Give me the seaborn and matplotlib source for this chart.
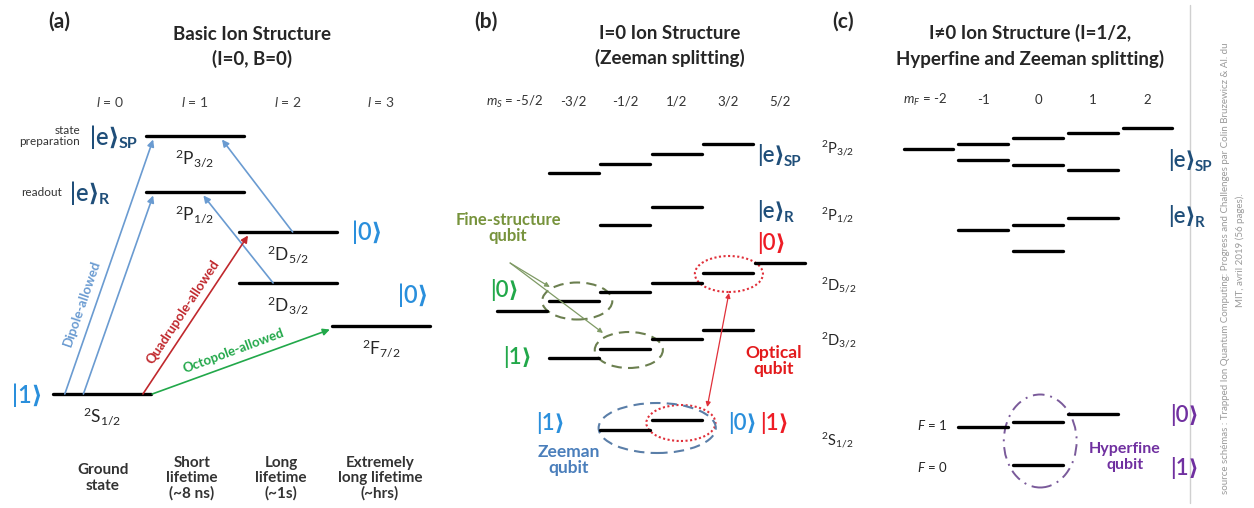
import numpy as np
import pandas as pd
import matplotlib
matplotlib.use('Agg')
import matplotlib.pyplot as plt
from matplotlib.patches import Ellipse
import seaborn as sns

# ---------------- data ----------------
# (a) basic structure: column = orbital l, energy in arbitrary units
a_terms = ['S1/2', 'P1/2', 'P3/2', 'D3/2', 'D5/2', 'F7/2']
a_l = [0, 1, 1, 2, 2, 3]
a_energy = [0.0, 20.2, 25.8, 11.1, 16.2, 6.8]

# (a) transitions: start column, start level, end column, end level, kind
tr_x0 = [-0.40, -0.20, 2.05, 1.84, 0.44, 0.54]
tr_from = ['S1/2', 'S1/2', 'D5/2', 'D3/2', 'S1/2', 'S1/2']
tr_x1 = [0.55, 0.55, 1.29, 1.09, 1.57, 2.45]
tr_to = ['P3/2', 'P1/2', 'P3/2', 'P1/2', 'D5/2', 'F7/2']
tr_kind = ['dipole', 'dipole', 'dipole', 'dipole', 'quadrupole', 'octopole']

# (b) Zeeman sublevels: m_J and energy (arbitrary units)
b_terms = ['S1/2'] * 2 + ['D3/2'] * 4 + ['D5/2'] * 6 + ['P1/2'] * 2 + ['P3/2'] * 4
b_m = [-0.5, 0.5,
       -1.5, -0.5, 0.5, 1.5,
       -2.5, -1.5, -0.5, 0.5, 1.5, 2.5,
       -0.5, 0.5,
       -1.5, -0.5, 0.5, 1.5]
b_energy = [2.0, 3.0,
            9.2, 10.1, 11.1, 12.0,
            13.9, 14.9, 15.8, 16.7, 17.7, 18.7,
            22.5, 24.3,
            27.7, 28.6, 29.6, 30.6]
b_m_ticks = ['-5/2', '-3/2', '-1/2', '1/2', '3/2', '5/2']

# (c) hyperfine + Zeeman sublevels: m_F and energy (arbitrary units)
c_terms = ['S F=0'] + ['S F=1'] * 3 + ['P1/2 F=0'] + ['P1/2 F=1'] * 3 + \
          ['P3/2 F=1'] * 3 + ['P3/2 F=2'] * 5
c_m = [0, -1, 0, 1, 0, -1, 0, 1, -1, 0, 1, -2, -1, 0, 1, 2]
c_energy = [1.5, 5.3, 5.8, 6.6, 22.9, 25.0, 25.5, 26.2,
            32.0, 31.5, 31.0, 33.1, 33.6, 34.2, 34.7, 35.2]
c_m_ticks = ['-2', '-1', '0', '1', '2']

W, H = 1254, 508
sns.set_style('white')
plt.rcParams['font.family'] = ['Lato', 'DejaVu Sans']
plt.rcParams['mathtext.fontset'] = 'custom'
plt.rcParams['mathtext.rm'] = 'Lato'
plt.rcParams['mathtext.it'] = 'Lato:italic'
plt.rcParams['mathtext.bf'] = 'Lato:bold'

fig = plt.figure(figsize=(W / 100, H / 100), dpi=100)
fig.patch.set_facecolor('white')


def panel_axes(name, x0px, sx, y0px, sy):
    # full-figure axes: pixel x = x0px + sx * x, pixel y = y0px - sy * E
    ax = fig.add_axes([0, 0, 1, 1], label=name)
    ax.axis('off')
    ax.patch.set_alpha(0)
    return ax, (-x0px / sx, (W - x0px) / sx), ((y0px - H) / sy, y0px / sy)


def draw_levels(ax, xs, es, half):
    rows = []
    for i, (x, e) in enumerate(zip(xs, es)):
        rows.append({'x': x - half, 'E': e, 'id': i})
        rows.append({'x': x + half, 'E': e, 'id': i})
    df = pd.DataFrame(rows)
    sns.lineplot(data=df, x='x', y='E', units='id', estimator=None, sort=False,
                 color='black', lw=2.4, ax=ax, legend=False)
    ax.set_xlabel('')
    ax.set_ylabel('')


ax_a, xl_a, yl_a = panel_axes('a', 102, 93, 394, 10)
ax_b, xl_b, yl_b = panel_axes('b', 651, 51.6, 450, 10)
ax_c, xl_c, yl_c = panel_axes('c', 1038, 54.75, 480, 10)

draw_levels(ax_a, a_l, a_energy, 0.53)
draw_levels(ax_b, b_m, b_energy, 0.485)
draw_levels(ax_c, c_m, c_energy, 0.455)
for ax, xl, yl in [(ax_a, xl_a, yl_a), (ax_b, xl_b, yl_b), (ax_c, xl_c, yl_c)]:
    ax.set_xlim(*xl)
    ax.set_ylim(*yl)

# transitions in (a)
tr_colors = {'dipole': '#6a9bd1', 'quadrupole': '#c0282d', 'octopole': '#22a84a'}
a_lookup = dict(zip(a_terms, a_energy))
for x0, f, x1, t, k in zip(tr_x0, tr_from, tr_x1, tr_to, tr_kind):
    ax_a.annotate('', xy=(x1, a_lookup[t] - 0.35), xytext=(x0, a_lookup[f]),
                  arrowprops=dict(arrowstyle='-|>', color=tr_colors[k], lw=1.2,
                                  mutation_scale=10, shrinkA=0, shrinkB=0))

# overlay for text, pixel coordinates
ax_t = fig.add_axes([0, 0, 1, 1], label='text')
ax_t.set_xlim(0, W)
ax_t.set_ylim(H, 0)
ax_t.axis('off')
ax_t.patch.set_alpha(0)

LB = '#2a8fdc'
DB = '#1f4e79'
GR = '#22a84a'
RD = '#ee1c25'
PU = '#7030a0'


def ket(x, y, s, color, sub=None, size=16):
    t = ax_t.text(x, y, s, color=color, fontsize=size, ha='left', va='center',
                  fontweight='semibold')
    if sub:
        ax_t.annotate(sub, xy=(0.97, 0.2), xycoords=t, color=color,
                      fontsize=size * 0.68, fontweight='bold', ha='left', va='center')
    return t


# titles
for x, s in [(59, '(a)'), (486, '(b)'), (843, '(c)')]:
    ax_t.text(x, 22, s, fontsize=15, fontweight='bold', ha='center', va='center')
ax_t.text(252, 47, 'Basic Ion Structure\n(I=0, B=0)', fontsize=13.5, fontweight='bold',
          ha='center', va='center', linespacing=1.5)
ax_t.text(670, 46, 'I=0 Ion Structure\n(Zeeman splitting)', fontsize=13.5, fontweight='bold',
          ha='center', va='center', linespacing=1.5)
ax_t.text(1030, 46, 'I\u22600 Ion Structure (I=1/2,\nHyperfine and Zeeman splitting)',
          fontsize=13.5, fontweight='bold', ha='center', va='center', linespacing=1.5)

# (a) column labels
for l in range(4):
    px = 102 + 93 * l + (8 if l == 0 else 0)
    ax_t.text(px, 102, '$l$ = %d' % l, fontsize=10, color='#404040', ha='center', va='center')

# (a) term labels
a_tex = {'S1/2': '$^2$S$_{1/2}$', 'P1/2': '$^2$P$_{1/2}$', 'P3/2': '$^2$P$_{3/2}$',
         'D3/2': '$^2$D$_{3/2}$', 'D5/2': '$^2$D$_{5/2}$', 'F7/2': '$^2$F$_{7/2}$'}
for term, l, e in zip(a_terms, a_l, a_energy):
    px = 102 + 93 * l
    py = 394 - 10 * e + 22
    ax_t.text(px, py, a_tex[term], fontsize=12.5, ha='center', va='center')

ket(12, 395, '|1\u27e9', LB, size=17)
ket(352, 232, '|0\u27e9', LB, size=17)
ket(398, 295, '|0\u27e9', LB, size=17)
ket(90, 137, '|e\u27e9', DB, 'SP', size=17)
ket(70, 193, '|e\u27e9', DB, 'R', size=17)
ax_t.text(80, 136, 'state\npreparation', fontsize=8.5, color='#333333', ha='right', va='center',
          linespacing=1.1)
ax_t.text(62, 193, 'readout', fontsize=8.5, color='#333333', ha='right', va='center')

ax_t.text(82, 303, 'Dipole-allowed', fontsize=9.5, color='#6a9bd1', rotation=71,
          ha='center', va='center', fontweight='bold')
ax_t.text(183, 312, 'Quadrupole-allowed', fontsize=9.5, color='#c0282d', rotation=56.5,
          ha='center', va='center', fontweight='bold')
ax_t.text(234, 351, 'Octopole-allowed', fontsize=9.5, color='#22a84a', rotation=20.3,
          ha='center', va='center', fontweight='bold')

for px, s in [(103, 'Ground\nstate'), (192, 'Short\nlifetime\n(~8 ns)'),
              (281, 'Long\nlifetime\n(~1s)'), (380, 'Extremely\nlong lifetime\n(~hrs)')]:
    ax_t.text(px, 478, s, fontsize=11, fontweight='bold', color='#333333',
              ha='center', va='center', linespacing=1.1)

# (b) labels
ax_t.text(543, 102, '$m_S$ = -5/2', fontsize=9.5, color='#333333', ha='right', va='center')
for i, s in enumerate(b_m_ticks[1:]):
    ax_t.text(651 + 51.6 * (i - 1.5), 102, s, fontsize=9.5, color='#333333', ha='center', va='center')

for s, py in [('$^2$P$_{3/2}$', 148), ('$^2$P$_{1/2}$', 215), ('$^2$D$_{5/2}$', 285),
              ('$^2$D$_{3/2}$', 340), ('$^2$S$_{1/2}$', 440)]:
    ax_t.text(821, py, s, fontsize=10.5, ha='left', va='center')

ket(757, 155, '|e\u27e9', DB, 'SP')
ket(757, 211, '|e\u27e9', DB, 'R')
ket(757, 243, '|0\u27e9', RD)
ket(490, 290, '|0\u27e9', GR)
ket(503, 357, '|1\u27e9', GR)
ket(536, 423, '|1\u27e9', LB)
ket(728, 423, '|0\u27e9', LB)
ket(760, 423, '|1\u27e9', RD)

ax_t.text(508, 228, 'Fine-structure\nqubit', fontsize=12, fontweight='bold', color='#77933c',
          ha='center', va='center', linespacing=1.05)
ax_t.text(774, 361, 'Optical\nqubit', fontsize=12.5, fontweight='bold', color='#e31a1c',
          ha='center', va='center', linespacing=1.05)
ax_t.text(569, 460, 'Zeeman\nqubit', fontsize=12.5, fontweight='bold', color='#4a7ebb',
          ha='center', va='center', linespacing=1.05)

# (b) ellipses around qubit levels
b_ell = [(-1.43, 14.9, 1.36, 3.7, '#6b7f4f', (0, (5, 3))),
         (-0.43, 10.0, 1.32, 3.6, '#6b7f4f', (0, (5, 3))),
         (1.51, 17.6, 1.32, 3.6, '#e0303a', (0, (1, 1.2))),
         (0.58, 2.7, 1.34, 3.6, '#e0303a', (0, (1, 1.2))),
         (0.12, 2.2, 2.27, 5.0, '#5a7ea8', (0, (5, 3)))]
for cx, cy, w, h, col, ls in b_ell:
    ax_b.add_patch(Ellipse((cx, cy), w, h, fill=False, ec=col, lw=1.5, ls=ls))

for ex, ey in [(-1.96, 16.3), (-0.93, 11.7)]:
    ax_b.annotate('', xy=(ex, ey), xytext=(-2.73, 18.7),
                  arrowprops=dict(arrowstyle='-|>', color='#7f9a65', lw=0.9,
                                  mutation_scale=7, shrinkA=0, shrinkB=0))
ax_b.annotate('', xy=(1.09, 4.3), xytext=(1.51, 15.7),
              arrowprops=dict(arrowstyle='<|-|>', color='#e0303a', lw=0.9,
                              mutation_scale=7, shrinkA=0, shrinkB=0))

# (c) labels
ax_t.text(947, 100, '$m_F$ = -2', fontsize=9.5, color='#333333', ha='right', va='center')
for i, s in enumerate(c_m_ticks[1:]):
    ax_t.text(1038 + 54.75 * (i - 1), 100, s, fontsize=9.5, color='#333333', ha='center', va='center')

ket(1168, 160, '|e\u27e9', DB, 'SP')
ket(1168, 216, '|e\u27e9', DB, 'R')
ket(1170, 415, '|0\u27e9', PU)
ket(1170, 468, '|1\u27e9', PU)
ax_t.text(932, 425, '$F$ = 1', fontsize=9.5, ha='center', va='center')
ax_t.text(932, 467, '$F$ = 0', fontsize=9.5, ha='center', va='center')
ax_t.text(1125, 457, 'Hyperfine\nqubit', fontsize=11.5, fontweight='bold', color=PU,
          ha='center', va='center', linespacing=1.2)
ax_c.add_patch(Ellipse((0.04, 3.9), 1.33, 9.3, fill=False, ec='#7a5a9a', lw=1.4,
                       ls=(0, (6, 3, 1, 3))))

# separator and source
ax_t.plot([1190, 1190], [5, 503], color='#d0d0d0', lw=1)
ax_t.text(1226, 268, 'source sch\u00e9mas : Trapped Ion Quantum Computing: Progress and Challenges '
          'par Colin Bruzewicz & Al. du', fontsize=7, color='#9a9a9a', rotation=90,
          ha='center', va='center')
ax_t.text(1240, 250, 'MIT, avril 2019 (56 pages).', fontsize=7, color='#9a9a9a',
          rotation=90, ha='center', va='center')

fig.savefig('out.png', dpi=100, facecolor='white')
